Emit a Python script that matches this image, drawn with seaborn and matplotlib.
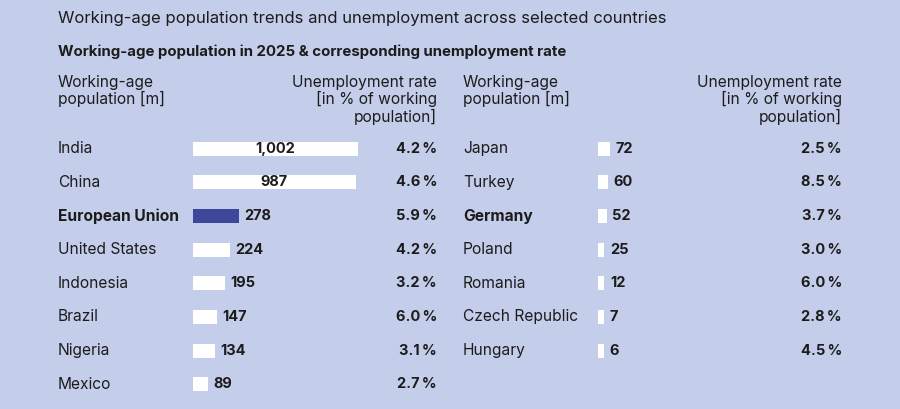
import numpy as np
import pandas as pd
import matplotlib
matplotlib.use("Agg")
import matplotlib.pyplot as plt
import matplotlib.transforms as mtransforms
import seaborn as sns

# data
left_countries = ["India", "China", "European Union", "United States", "Indonesia",
                  "Brazil", "Nigeria", "Mexico"]
left_pop = [1002, 987, 278, 224, 195, 147, 134, 89]
left_rate = [4.2, 4.6, 5.9, 4.2, 3.2, 6.0, 3.1, 2.7]

right_countries = ["Japan", "Turkey", "Germany", "Poland", "Romania", "Czech Republic", "Hungary"]
right_pop = [72, 60, 52, 25, 12, 7, 6]
right_rate = [2.5, 8.5, 3.7, 3.0, 6.0, 2.8, 4.5]

bold_names = ["European Union", "Germany"]
bar_highlight = ["European Union"]

BG = "#c4cdea"
BAR = "#ffffff"
HI = "#3d479c"
INK = "#1c1c1c"

sns.set_theme(style="white")
plt.rcParams["font.family"] = ["Inter", "DejaVu Sans"]
plt.rcParams["text.color"] = INK

W, H = 900, 409
fig = plt.figure(figsize=(W / 100, H / 100), dpi=100, facecolor=BG)

px_per_unit = 0.165
panel_w = 244
xmax = panel_w / px_per_unit
row_top, row_bottom = 132, 401


def fx(px):
    return px / W


def fy(py):
    return 1 - py / H


def draw_panel(x0, countries, pop, rate):
    ax = fig.add_axes([fx(x0), fy(row_bottom), panel_w / W, (row_bottom - row_top) / H])
    ax.set_facecolor("none")
    df = pd.DataFrame({"country": countries, "pop": pop, "rate": rate})
    # small values get a minimum visible width, like the reference
    df["shown"] = np.maximum(df["pop"], 38)
    colors = [HI if c in bar_highlight else BAR for c in df["country"]]
    sns.barplot(data=df, x="shown", y="country", hue="country", palette=colors,
                legend=False, width=0.42, ax=ax, saturation=1, linewidth=0)
    ax.set_xlim(0, xmax)
    ax.set_ylim(7.5, -0.5)
    ax.set_xlabel("")
    ax.set_ylabel("")
    ax.set_xticks([])
    sns.despine(ax=ax, left=True, bottom=True)
    ax.tick_params(axis="y", length=0, pad=135 * 0.72)
    ax.set_yticks(range(len(df)))
    ax.set_yticklabels(df["country"], fontsize=11.2, color=INK, va="center")
    for lab in ax.get_yticklabels():
        lab.set_horizontalalignment("left")
        if lab.get_text() in bold_names:
            lab.set_fontweight("bold")
    trans = mtransforms.blended_transform_factory(ax.transAxes, ax.transData)
    for i, r in df.iterrows():
        txt = f"{r['pop']:,}"
        if r["pop"] > 500:
            ax.text(r["shown"] / 2, i, txt, ha="center", va="center",
                    fontsize=10.5, fontweight="bold", color=INK)
        else:
            ax.annotate(txt, (r["shown"], i), xytext=(4, 0), textcoords="offset points",
                        ha="left", va="center", fontsize=10.5, fontweight="bold", color=INK)
        ax.text(1.0, i, f"{r['rate']:.1f}\u2009%", transform=trans, ha="right", va="center",
                fontsize=10.5, fontweight="bold", color=INK)
    return ax


draw_panel(193, left_countries, left_pop, left_rate)
draw_panel(598, right_countries, right_pop, right_rate)

fig.text(fx(58), fy(19), "Working-age population trends and unemployment across selected countries",
         ha="left", va="center", fontsize=12)
fig.text(fx(58), fy(52), "Working-age population in 2025 & corresponding unemployment rate",
         ha="left", va="center", fontsize=10.8, fontweight="bold")

for xl, xr in [(58, 437), (463, 842)]:
    fig.text(fx(xl), fy(75), "Working-age\npopulation [m]", ha="left", va="top",
             fontsize=11.2, linespacing=1.1)
    fig.text(fx(xr), fy(75), "Unemployment rate\n[in % of working\npopulation]",
             ha="right", va="top", fontsize=11.2, linespacing=1.1, multialignment="right")

fig.savefig("out.png", dpi=100, facecolor=BG)
